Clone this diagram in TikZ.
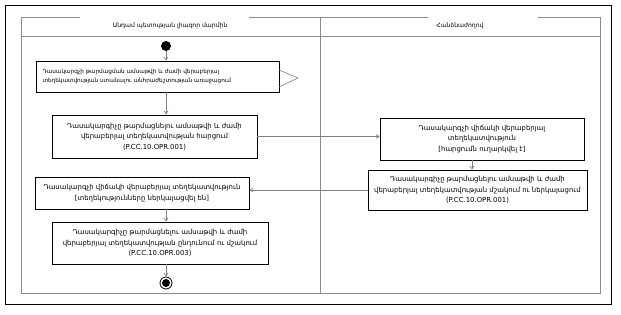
\documentclass[tikz,border=0pt]{standalone}
\usepackage{fontspec}
\setmainfont{DejaVu Sans}
\usetikzlibrary{arrows.meta,calc}
\tikzset{
  act/.style={draw=black, line width=0.8pt, inner sep=0pt, font=\fontsize{6.9}{10.5}\selectfont, align=center},
  lane/.style={draw=black!45, line width=0.8pt},
  flow/.style={draw=black!50, line width=0.7pt, -{Straight Barb[length=3pt,width=4pt]}},
}
\begin{document}
\begin{tikzpicture}[x=1pt,y=-1pt]
\useasboundingbox (0,0) rectangle (621,314);
\fill[white] (0,0) rectangle (621,314);
% outer frame
\draw[black, line width=0.9pt] (5,5) rectangle (611,304);
% swimlanes
\draw[lane] (21,17) -- (21,293) -- (600,293) -- (600,17);
\draw[lane] (21,17) -- (80,17);
\draw[lane] (249,17) -- (428,17);
\draw[lane] (538,17) -- (600,17);
\draw[lane] (21,36) -- (600,36);
\draw[lane] (320,17) -- (320,293);
\node[font=\fontsize{6.1}{7}\selectfont] (h1) at (170,26) {Անդամ պետության լիազոր մարմին};
\node[font=\fontsize{6.1}{7}\selectfont] (h2) at (460,26) {Հանձնաժողով};
% start
\node[circle, fill=black, minimum size=10pt, inner sep=0pt] (start) at (166,46) {};
% activities
\node[act, font=\fontsize{5.7}{9}\selectfont, minimum width=243pt, minimum height=31pt, align=left, text width=230pt] (b1) at (157.5,76.5)
  {Դասակարգչի թարմացման ամսաթվի և ժամի վերաբերյալ\\տեղեկատվության ստանալու անհրաժեշտության առաջացում};
\node[act, minimum width=205pt, minimum height=43pt] (b2) at (154.5,136.5)
  {Դասակարգիչը թարմացնելու ամսաթվի և ժամի\\վերաբերյալ տեղեկատվության հարցում\\(P.CC.10.OPR.001)};
\node[act, minimum width=204pt, minimum height=42pt] (b3) at (482,139)
  {Դասակարգչի վիճակի վերաբերյալ\\տեղեկատվություն\\{[}հարցումն ուղարկվել է{]}};
\node[act, minimum width=219pt, minimum height=40pt] (b5) at (477.5,190)
  {Դասակարգիչը թարմացնելու ամսաթվի և ժամի\\վերաբերյալ տեղեկատվության մշակում ու ներկայացում\\(P.CC.10.OPR.001)};
\node[act, minimum width=214pt, minimum height=32pt] (b4) at (142,193)
  {Դասակարգչի վիճակի վերաբերյալ տեղեկատվություն\\{[}տեղեկությունները ներկայացվել են{]}};
\node[act, minimum width=216pt, minimum height=42pt] (b6) at (160,243)
  {Դասակարգիչը թարմացնելու ամսաթվի և ժամի\\վերաբերյալ տեղեկատվության ընդունում ու մշակում\\(P.CC.10.OPR.003)};
% end
\node[circle, draw=black, line width=0.8pt, minimum size=12pt, inner sep=0pt] (end) at (166,283) {};
\node[circle, fill=black, minimum size=8pt, inner sep=0pt] (endin) at (end.center) {};
% signal triangle
\coordinate (t1) at (279,70);
\coordinate (t2) at (298,78);
\coordinate (t3) at (279,87);
\draw[draw=black!50, line width=0.6pt] (t1) -- (t2) -- (t3);
% flows
\draw[flow] (start.south) -- (start.south |- b1.north);
\draw[flow] (start.south |- b1.south) -- (start.south |- b2.north);
\draw[flow] (b2.east) -- (b2.east -| b3.west);
\draw[flow] ($(b3.south)+(-10,0)$) -- ($(b3.south |- b5.north)+(-10,0)$);
\draw[flow] (b5.west) -- (b5.west -| b4.east);
\draw[flow] (start.south |- b4.south) -- (start.south |- b6.north);
\draw[flow] (start.south |- b6.south) -- (end.north);
\end{tikzpicture}
\end{document}
